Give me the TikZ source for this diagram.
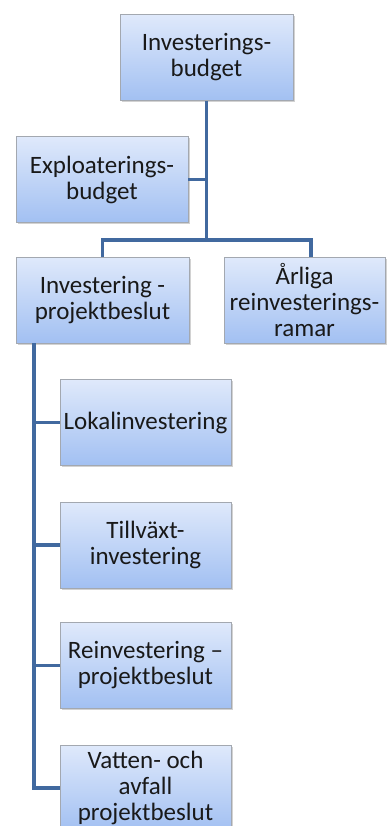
\documentclass[tikz,border=0pt]{standalone}
\usepackage{fontspec}
\setmainfont{Carlito}
\usetikzlibrary{shadows}
\definecolor{linec}{HTML}{41699F}
\definecolor{topc}{HTML}{DFE9FB}
\definecolor{botc}{HTML}{A2C0F2}
\definecolor{bordc}{HTML}{A3A8B0}
\tikzset{
  box/.style={draw=bordc, line width=0.8pt, top color=topc, bottom color=botc,
    minimum width=#1, minimum height=86pt, inner sep=0pt, align=center,
    font=\fontsize{25}{26}\selectfont, text=black!90,
    drop shadow={shadow xshift=1.5pt, shadow yshift=-1.5pt, fill=black!35, opacity=0.5}},
  box/.default=172pt,
  conn/.style={draw=linec, line width=3.5pt}
}
\begin{document}
\begin{tikzpicture}[x=1pt,y=-1pt]
\useasboundingbox (0,0) rectangle (388,826);
\begin{scope}
\clip (0,0) rectangle (388,826);
\node[box=173pt] (ib) at (206.5,57.5) {Investerings-\\budget};
\node[box] (eb) at (102,179.5) {Exploaterings-\\budget};
\node[box=173pt] (ip) at (102.5,300) {Investering -\\projektbeslut};
\node[box=161pt] (ar) at (304.5,300.5) {Årliga\\reinvesterings-\\ramar};
\node[box=171pt] (li) at (145.5,422.5) {Lokalinvestering};
\node[box=171pt] (ti) at (145.5,545) {Tillväxt-\\investering};
\node[box=171pt] (ri) at (145.5,665.5) {Reinvestering –\\projektbeslut};
\node[box=171pt] (va) at (145.5,788) {Vatten- och\\avfall\\projektbeslut};

\coordinate (j1) at (206.5,240);
\coordinate (tl) at (34,0);
\path[conn] (ib.south) -- (j1);
\path[conn] (eb.east) -- (eb.east -| j1);
\path[conn] (ip.north) |- (j1) -| (311,0 |- ar.north);
\path[conn] (ip.south -| tl) |- (va.west);
\path[conn] (li.west -| tl) -- (li.west);
\path[conn] (ti.west -| tl) -- (ti.west);
\path[conn] (ri.west -| tl) -- (ri.west);
\end{scope}
\end{tikzpicture}
\end{document}
